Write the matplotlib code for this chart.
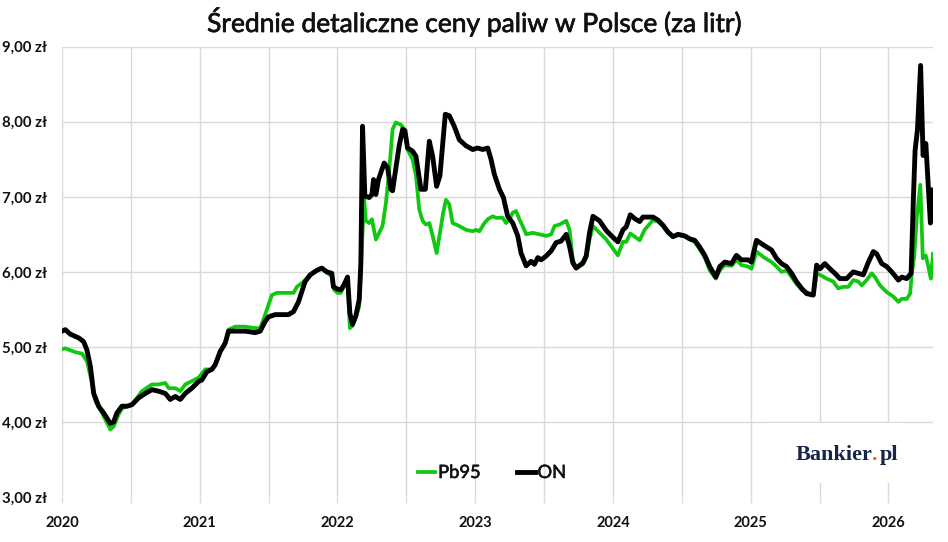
import matplotlib
matplotlib.use("Agg")
import matplotlib.pyplot as plt
import matplotlib.patheffects as pe
from matplotlib.patches import Rectangle
from matplotlib.ticker import FixedLocator, FuncFormatter

plt.rcParams['font.family'] = ['Lato', 'DejaVu Sans']

title = "Średnie detaliczne ceny paliw w Polsce (za litr)"
series_names = ["Pb95", "ON"]

on_x = [2020.000, 2020.024, 2020.060, 2020.121, 2020.157, 2020.181, 2020.206, 2020.230, 2020.266, 2020.302,
        2020.351, 2020.375, 2020.399, 2020.435, 2020.472, 2020.508, 2020.556, 2020.605, 2020.653, 2020.701,
        2020.750, 2020.786, 2020.822, 2020.859, 2020.895, 2020.943, 2020.992, 2021.016, 2021.052, 2021.088,
        2021.112, 2021.149, 2021.185, 2021.209, 2021.233, 2021.330, 2021.403, 2021.439, 2021.475, 2021.499,
        2021.548, 2021.644, 2021.681, 2021.717, 2021.765, 2021.802, 2021.850, 2021.886, 2021.923, 2021.959,
        2021.971, 2022.000, 2022.024, 2022.048, 2022.073, 2022.090, 2022.109, 2022.133, 2022.158, 2022.170,
        2022.182, 2022.199, 2022.230, 2022.250, 2022.262, 2022.279, 2022.298, 2022.339, 2022.364, 2022.388,
        2022.400, 2022.419, 2022.448, 2022.473, 2022.490, 2022.509, 2022.545, 2022.570, 2022.606, 2022.638,
        2022.667, 2022.691, 2022.720, 2022.744, 2022.783, 2022.812, 2022.848, 2022.885, 2022.933, 2022.982,
        2023.018, 2023.055, 2023.091, 2023.115, 2023.139, 2023.176, 2023.205, 2023.236, 2023.273, 2023.309,
        2023.333, 2023.370, 2023.406, 2023.430, 2023.455, 2023.479, 2023.515, 2023.552, 2023.588, 2023.624,
        2023.661, 2023.685, 2023.709, 2023.733, 2023.782, 2023.806, 2023.830, 2023.855, 2023.903, 2023.952,
        2024.000, 2024.036, 2024.073, 2024.097, 2024.126, 2024.158, 2024.194, 2024.218, 2024.255, 2024.291,
        2024.327, 2024.364, 2024.400, 2024.436, 2024.473, 2024.521, 2024.558, 2024.594, 2024.630, 2024.667,
        2024.703, 2024.747, 2024.776, 2024.812, 2024.861, 2024.897, 2024.933, 2024.982, 2025.006, 2025.042,
        2025.091, 2025.152, 2025.188, 2025.224, 2025.261, 2025.297, 2025.333, 2025.370, 2025.406, 2025.455,
        2025.479, 2025.503, 2025.539, 2025.576, 2025.612, 2025.648, 2025.697, 2025.745, 2025.782, 2025.818,
        2025.855, 2025.891, 2025.915, 2025.952, 2025.988, 2026.024, 2026.073, 2026.097, 2026.133, 2026.165,
        2026.182, 2026.194, 2026.211, 2026.234, 2026.252, 2026.272, 2026.305, 2026.323]
on_y = [5.21, 5.23, 5.17, 5.12, 5.07, 4.96, 4.74, 4.38, 4.21, 4.12,
        3.98, 4.00, 4.12, 4.21, 4.21, 4.23, 4.32, 4.38, 4.43, 4.41,
        4.38, 4.30, 4.34, 4.30, 4.38, 4.45, 4.54, 4.56, 4.67, 4.70,
        4.76, 4.94, 5.05, 5.21, 5.21, 5.21, 5.19, 5.21, 5.34, 5.40,
        5.43, 5.43, 5.47, 5.60, 5.87, 5.96, 6.02, 6.05, 6.00, 5.98,
        5.80, 5.77, 5.76, 5.83, 5.93, 5.45, 5.30, 5.41, 5.63, 6.12,
        7.94, 7.01, 6.99, 7.03, 7.23, 7.03, 7.23, 7.45, 7.39, 7.10,
        7.08, 7.32, 7.68, 7.90, 7.88, 7.65, 7.61, 7.54, 7.10, 7.10,
        7.74, 7.54, 7.14, 7.28, 8.10, 8.08, 7.94, 7.76, 7.68, 7.63,
        7.65, 7.63, 7.65, 7.50, 7.30, 7.10, 6.99, 6.74, 6.65, 6.48,
        6.25, 6.08, 6.14, 6.10, 6.19, 6.16, 6.21, 6.28, 6.39, 6.41,
        6.50, 6.34, 6.12, 6.05, 6.12, 6.21, 6.52, 6.74, 6.68, 6.55,
        6.46, 6.40, 6.56, 6.60, 6.76, 6.71, 6.67, 6.73, 6.73, 6.73,
        6.69, 6.62, 6.53, 6.47, 6.50, 6.48, 6.44, 6.42, 6.33, 6.22,
        6.07, 5.93, 6.07, 6.13, 6.11, 6.22, 6.16, 6.16, 6.13, 6.42,
        6.36, 6.29, 6.18, 6.11, 6.07, 5.98, 5.87, 5.78, 5.71, 5.69,
        6.09, 6.04, 6.11, 6.04, 5.98, 5.91, 5.91, 6.00, 5.98, 5.96,
        6.13, 6.27, 6.24, 6.11, 6.07, 6.00, 5.89, 5.93, 5.91, 5.98,
        7.00, 7.62, 7.89, 8.75, 7.55, 7.71, 6.65, 7.09]

pb_x = [2020.000, 2020.024, 2020.097, 2020.145, 2020.181, 2020.218, 2020.242, 2020.290, 2020.351, 2020.375,
        2020.411, 2020.435, 2020.508, 2020.580, 2020.653, 2020.701, 2020.750, 2020.774, 2020.822, 2020.859,
        2020.895, 2020.992, 2021.040, 2021.088, 2021.112, 2021.149, 2021.185, 2021.209, 2021.258, 2021.330,
        2021.403, 2021.439, 2021.475, 2021.524, 2021.560, 2021.681, 2021.705, 2021.741, 2021.765, 2021.802,
        2021.850, 2021.886, 2021.923, 2021.959, 2021.976, 2022.000, 2022.024, 2022.048, 2022.073, 2022.090,
        2022.109, 2022.133, 2022.158, 2022.177, 2022.194, 2022.206, 2022.230, 2022.250, 2022.279, 2022.303,
        2022.327, 2022.352, 2022.376, 2022.400, 2022.424, 2022.461, 2022.485, 2022.509, 2022.545, 2022.570,
        2022.594, 2022.618, 2022.642, 2022.667, 2022.691, 2022.720, 2022.744, 2022.768, 2022.788, 2022.812,
        2022.836, 2022.885, 2022.933, 2022.982, 2023.006, 2023.030, 2023.067, 2023.091, 2023.127, 2023.152,
        2023.200, 2023.224, 2023.248, 2023.273, 2023.297, 2023.321, 2023.345, 2023.370, 2023.418, 2023.467,
        2023.515, 2023.552, 2023.576, 2023.612, 2023.661, 2023.685, 2023.709, 2023.733, 2023.782, 2023.806,
        2023.830, 2023.855, 2023.903, 2023.952, 2024.000, 2024.036, 2024.073, 2024.097, 2024.126, 2024.158,
        2024.194, 2024.230, 2024.267, 2024.291, 2024.327, 2024.364, 2024.400, 2024.436, 2024.473, 2024.521,
        2024.558, 2024.594, 2024.630, 2024.667, 2024.703, 2024.747, 2024.776, 2024.812, 2024.861, 2024.897,
        2024.933, 2024.982, 2025.006, 2025.042, 2025.091, 2025.152, 2025.188, 2025.224, 2025.261, 2025.297,
        2025.333, 2025.370, 2025.406, 2025.455, 2025.479, 2025.503, 2025.552, 2025.600, 2025.636, 2025.673,
        2025.709, 2025.745, 2025.782, 2025.806, 2025.842, 2025.879, 2025.903, 2025.939, 2025.988, 2026.036,
        2026.073, 2026.097, 2026.133, 2026.158, 2026.170, 2026.187, 2026.206, 2026.232, 2026.250, 2026.271,
        2026.290, 2026.308, 2026.324]
pb_y = [4.97, 4.98, 4.93, 4.91, 4.81, 4.52, 4.28, 4.12, 3.90, 3.94,
        4.10, 4.18, 4.23, 4.41, 4.50, 4.50, 4.52, 4.45, 4.45, 4.41,
        4.50, 4.59, 4.70, 4.70, 4.76, 4.94, 5.05, 5.23, 5.27, 5.27,
        5.25, 5.25, 5.43, 5.69, 5.72, 5.72, 5.80, 5.85, 5.89, 5.96,
        6.02, 6.04, 5.99, 5.94, 5.76, 5.72, 5.72, 5.81, 5.90, 5.25,
        5.28, 5.39, 5.54, 6.34, 6.96, 6.68, 6.65, 6.70, 6.43, 6.52,
        6.61, 6.92, 7.36, 7.90, 7.99, 7.96, 7.90, 7.63, 7.50, 7.28,
        6.83, 6.68, 6.63, 6.65, 6.48, 6.25, 6.52, 6.79, 6.96, 6.90,
        6.65, 6.61, 6.56, 6.54, 6.56, 6.54, 6.65, 6.70, 6.74, 6.72,
        6.72, 6.65, 6.70, 6.79, 6.81, 6.70, 6.61, 6.50, 6.52, 6.50,
        6.48, 6.50, 6.61, 6.63, 6.68, 6.56, 6.16, 6.05, 6.10, 6.19,
        6.43, 6.61, 6.52, 6.43, 6.31, 6.22, 6.40, 6.40, 6.51, 6.47,
        6.42, 6.56, 6.64, 6.69, 6.67, 6.61, 6.52, 6.46, 6.49, 6.47,
        6.43, 6.40, 6.30, 6.19, 6.02, 5.91, 6.02, 6.09, 6.08, 6.16,
        6.09, 6.07, 6.04, 6.27, 6.20, 6.13, 6.07, 6.00, 6.02, 5.93,
        5.84, 5.76, 5.73, 5.69, 5.98, 5.96, 5.91, 5.87, 5.78, 5.80,
        5.80, 5.89, 5.87, 5.82, 5.89, 5.98, 5.93, 5.82, 5.73, 5.67,
        5.60, 5.64, 5.64, 5.71, 5.98, 6.19, 6.72, 7.16, 6.18, 6.22,
        6.07, 5.91, 6.24]

y_ticks = [3, 4, 5, 6, 7, 8, 9]
year_labels = [2020, 2021, 2022, 2023, 2024, 2025, 2026]
x_start, x_end = 2020.0, 2026.324

fig = plt.figure(figsize=(9.48, 5.42), dpi=100)
ax = fig.add_axes([62/948, 1-497/542, (933-62)/948, (497-46.7)/542])
ax.set_axisbelow(True)

grid_c = '#d9d9d9'
for v in y_ticks[1:]:
    ax.axhline(v, color=grid_c, lw=1.0, zorder=0.5)
half_years = [year_labels[0] + 0.5 * i for i in range(2 * (len(year_labels) - 1) + 1)]
for hx in half_years:
    ax.axvline(hx, color=grid_c, lw=1.0, zorder=0.5)

# white box behind the logo
ax.add_patch(Rectangle((0.805, 0.03), 0.16, 0.135, transform=ax.transAxes,
                       facecolor='white', edgecolor='none', zorder=1, clip_on=False))

ax.plot(pb_x, pb_y, color='#10c810', lw=2.7, solid_joinstyle='round', zorder=3, label=series_names[0])
ax.plot(on_x, on_y, color='#000000', lw=3.5, solid_joinstyle='round', zorder=4, label=series_names[1])

ax.set_xlim(x_start, x_end)
ax.set_ylim(y_ticks[0], y_ticks[-1])
for s in ax.spines.values():
    s.set_visible(False)

ax.xaxis.set_major_locator(FixedLocator(half_years))
ax.xaxis.set_major_formatter(FuncFormatter(lambda v, p: str(int(round(v))) if abs(v - round(v)) < 1e-6 else ''))
ax.set_yticks(y_ticks)
ax.set_yticklabels([f"{v},00 zł" for v in y_ticks])
ax.tick_params(axis='x', length=4, width=1, color=grid_c, pad=10, labelsize=10.5)
ax.tick_params(axis='y', length=0, pad=11, labelsize=10.8)
for lab in ax.get_xticklabels() + ax.get_yticklabels():
    lab.set_fontweight('bold')
    lab.set_color('#111111')

thick = [pe.withStroke(linewidth=0.5, foreground='#111111')]
fig.text(0.501, 1-22/542, title, ha='center', va='center', fontsize=19, color='#111111',
         path_effects=thick)

leg = fig.legend(loc='center', bbox_to_anchor=(492/948, 1-473/542), ncol=2, frameon=False,
                 fontsize=13.2, handlelength=0.95, handletextpad=0.15, columnspacing=2.0)
for t in leg.get_texts():
    t.set_color('#111111')
    t.set_path_effects([pe.withStroke(linewidth=0.4, foreground='#111111')])

# logo "Bankier.pl": pieces placed by measuring the ink width of growing prefixes
navy = '#18254a'
logo_kw = dict(va='baseline', fontsize=16, fontweight='bold',
               family=['Liberation Serif', 'DejaVu Serif'])
lx, ly = 796, 542 - 460  # pixels from bottom-left
renderer = fig.canvas.get_renderer()

def ink_width(s):
    t = fig.text(0, 0, s, **logo_kw)
    w = t.get_window_extent(renderer).width
    t.remove()
    return w

w_dot_end = ink_width("Bankier.") + 1.5
w_all = ink_width("Bankier.pl") + 3.0
fig.text(lx / 948, ly / 542, "Bankier", ha='left', color=navy, **logo_kw)
fig.text((lx + w_dot_end) / 948, ly / 542, ".", ha='right', color='#f05a28', **logo_kw)
fig.text((lx + w_all) / 948, ly / 542, "pl", ha='right', color=navy, **logo_kw)

fig.savefig("out.png", dpi=100, facecolor='white')
